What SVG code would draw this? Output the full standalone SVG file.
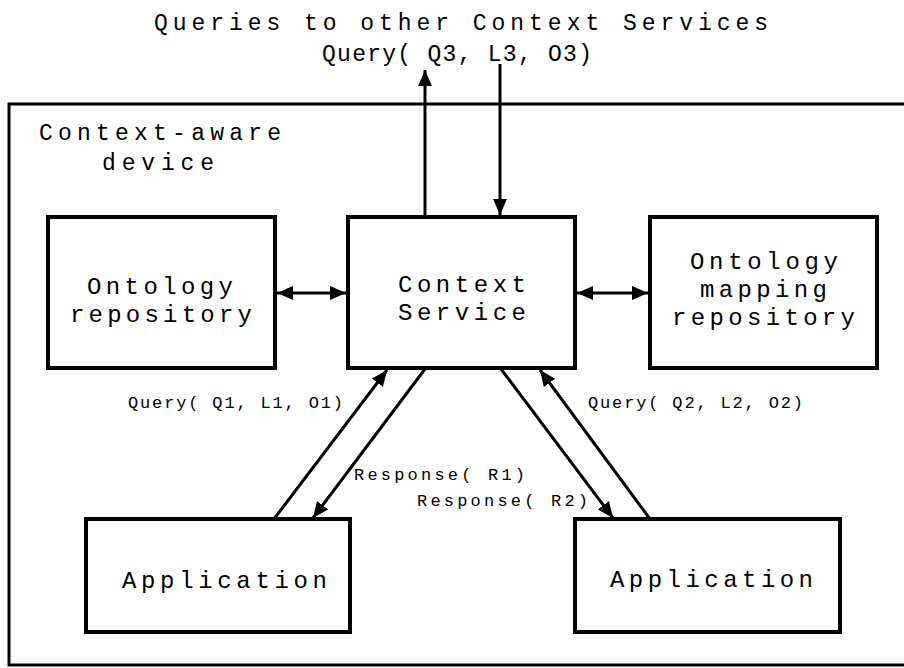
<svg xmlns="http://www.w3.org/2000/svg" width="904" height="668" viewBox="0 0 904 668">
  <style>
    .box { fill: #ffffff; stroke: #000000; stroke-width: 4; }
    .frame { fill: none; stroke: #000000; stroke-width: 3; }
    .conn { stroke: #000000; stroke-width: 3; fill: none; }
    text { font-family: "Liberation Mono", "DejaVu Sans Mono", monospace; fill: #000000; }
    .big { font-size: 24px; }
    .mid { font-size: 23px; }
    .small { font-size: 17px; }
  </style>
  <defs>
    <marker id="head" markerUnits="userSpaceOnUse" markerWidth="18" markerHeight="16" refX="16" refY="7" orient="auto-start-reverse">
      <path d="M0,0 L16,7 L0,14 z" fill="#000000"/>
    </marker>
  </defs>

  <rect width="904" height="668" fill="#ffffff"/>

  <!-- external queries heading -->
  <g id="heading">
    <text class="mid" x="154" y="30" textLength="614" lengthAdjust="spacing">Queries to other Context Services</text>
    <text class="mid" x="322" y="61" textLength="270" lengthAdjust="spacing">Query( Q3, L3, O3)</text>
  </g>

  <!-- device boundary -->
  <g id="device">
    <rect class="frame" x="9" y="104" width="905" height="561"/>
    <text class="mid" x="39" y="140" textLength="242" lengthAdjust="spacing">Context-aware</text>
    <text class="mid" x="102" y="170" textLength="112" lengthAdjust="spacing">device</text>
  </g>

  <g id="ontology-repository">
    <rect class="box" x="48" y="217" width="227" height="151"/>
    <text class="big" x="87" y="294" textLength="146" lengthAdjust="spacing">Ontology</text>
    <text class="big" x="70" y="322" textLength="182" lengthAdjust="spacing">repository</text>
  </g>

  <g id="context-service">
    <rect class="box" x="348" y="217" width="227" height="151"/>
    <text class="big" x="398" y="292" textLength="128" lengthAdjust="spacing">Context</text>
    <text class="big" x="398" y="320" textLength="128" lengthAdjust="spacing">Service</text>
  </g>

  <g id="ontology-mapping-repository">
    <rect class="box" x="650" y="217" width="227" height="151"/>
    <text class="big" x="690" y="269" textLength="148" lengthAdjust="spacing">Ontology</text>
    <text class="big" x="700" y="297" textLength="127" lengthAdjust="spacing">mapping</text>
    <text class="big" x="672" y="325" textLength="183" lengthAdjust="spacing">repository</text>
  </g>

  <g id="application-left">
    <rect class="box" x="86" y="519" width="264" height="113"/>
    <text class="big" x="122" y="588" textLength="205" lengthAdjust="spacing">Application</text>
  </g>

  <g id="application-right">
    <rect class="box" x="575" y="519" width="265" height="113"/>
    <text class="big" x="610" y="587" textLength="203" lengthAdjust="spacing">Application</text>
  </g>

  <!-- connectors -->
  <g id="connectors">
    <line class="conn" x1="425" y1="215" x2="425" y2="70" marker-end="url(#head)"/>
    <line class="conn" x1="500" y1="64" x2="500" y2="215" marker-end="url(#head)"/>
    <line class="conn" x1="277" y1="293" x2="346" y2="293" marker-start="url(#head)" marker-end="url(#head)"/>
    <line class="conn" x1="577" y1="293" x2="648" y2="293" marker-start="url(#head)" marker-end="url(#head)"/>
    <line class="conn" x1="274" y1="519" x2="387" y2="370" marker-end="url(#head)"/>
    <line class="conn" x1="425" y1="369" x2="313" y2="518" marker-end="url(#head)"/>
    <line class="conn" x1="501" y1="369" x2="613" y2="518" marker-end="url(#head)"/>
    <line class="conn" x1="650" y1="519" x2="540" y2="370" marker-end="url(#head)"/>
  </g>

  <!-- connector labels -->
  <g id="labels">
    <text class="small" x="128" y="408" textLength="215" lengthAdjust="spacing">Query( Q1, L1, O1)</text>
    <text class="small" x="588" y="408" textLength="215" lengthAdjust="spacing">Query( Q2, L2, O2)</text>
    <text class="small" x="354" y="480" textLength="171" lengthAdjust="spacing">Response( R1)</text>
    <text class="small" x="417" y="506" textLength="171" lengthAdjust="spacing">Response( R2)</text>
  </g>
</svg>
